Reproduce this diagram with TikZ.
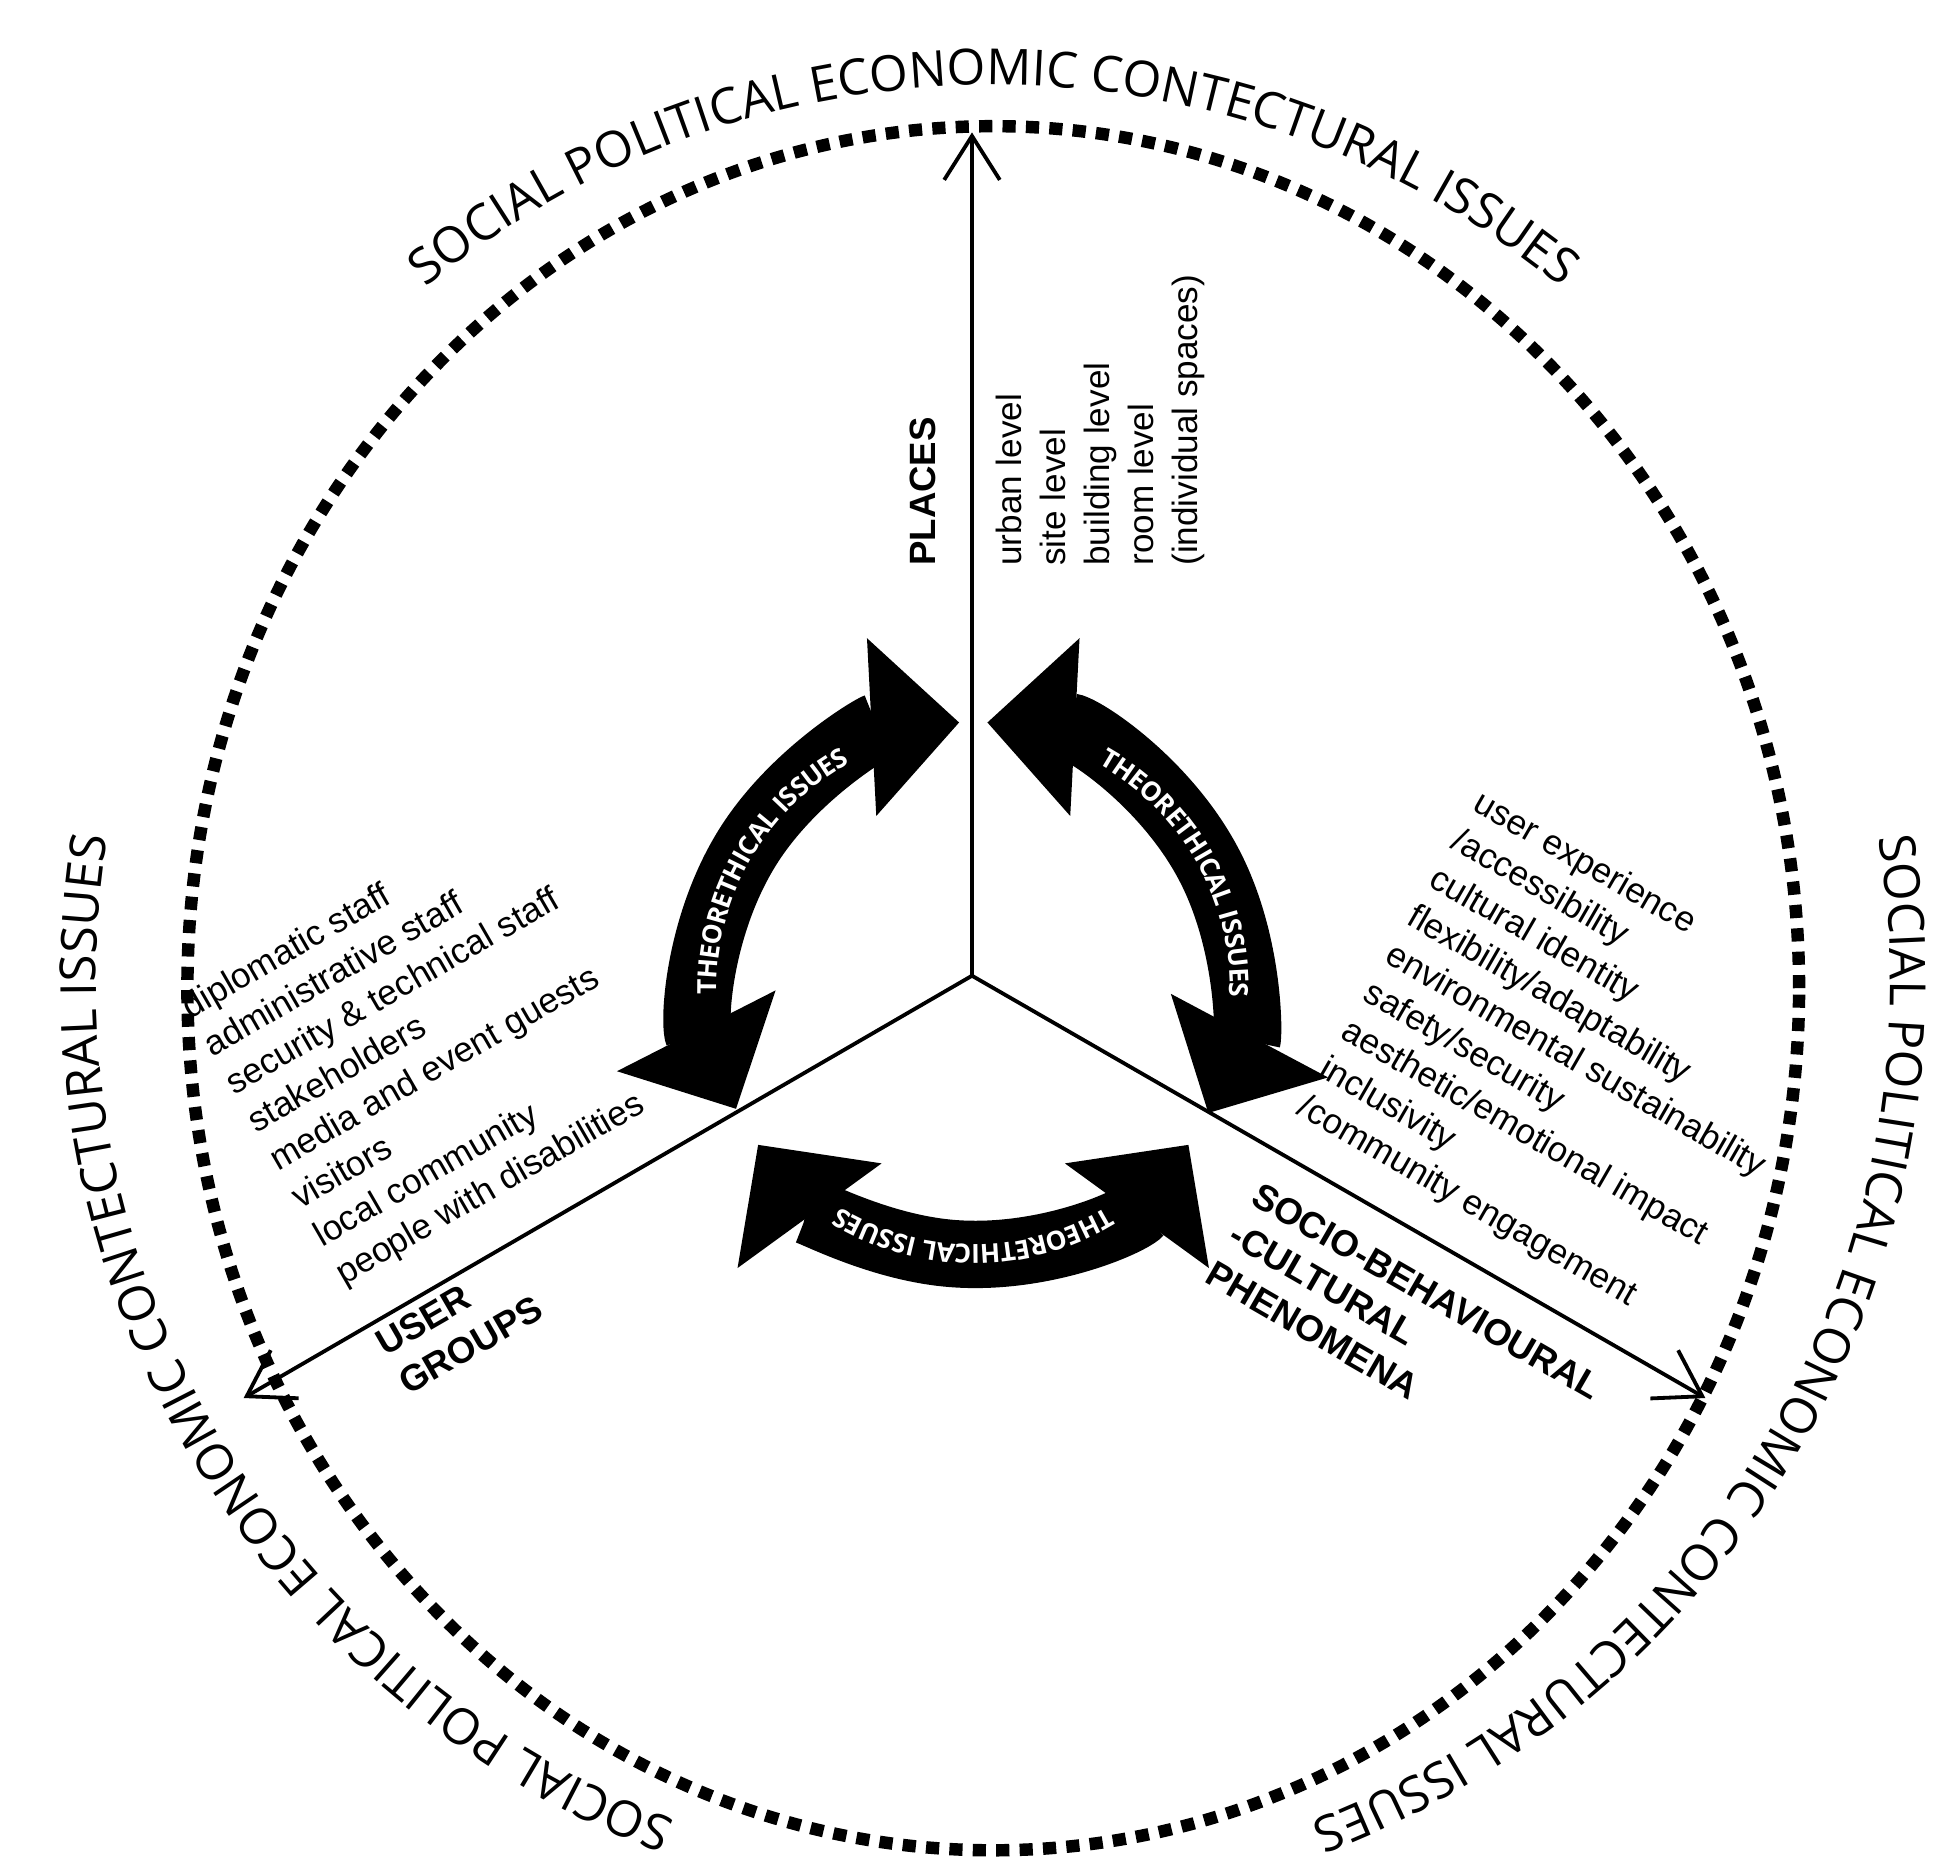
\documentclass[tikz,border=0pt]{standalone}
\usepackage{fontspec}
\setmainfont{Liberation Sans}
\newfontfamily\osans{Open Sans}
\usetikzlibrary{arrows.meta,decorations.text}
\begin{document}
\begin{tikzpicture}[x=0.03cm,y=0.03cm,
  axis/.style={line width=2.6pt,-{Straight Barb[length=30pt,width=38pt,line width=2.6pt]}},
  ring/.style={line width=8.5pt,dash pattern=on 9pt off 7pt},
  bigarc/.style={line width=46pt,{Triangle[length=60pt,width=118pt]}-{Triangle[length=60pt,width=118pt]}},
  listtxt/.style={inner sep=0pt,align=left,font=\fontsize{24}{30}\selectfont},
  boldtxt/.style={inner sep=0pt,align=left,font=\bfseries\fontsize{25}{31}\selectfont},
  outtext/.style={decorate,decoration={text along path,text align=center,
     text={|\osans\fontsize{34}{34}\selectfont|SOCIAL POLITICAL ECONOMIC CONTECTURAL ISSUES}}},
  arctext/.style={decorate,decoration={text along path,text align=center,raise=-6.5pt,
     text={|\osans\bfseries\color{white}\fontsize{18}{18}\selectfont|THEORETHICAL ISSUES}}}]
\useasboundingbox (0,0) rectangle (1560,1498);
\fill[white] (0,0) rectangle (1560,1498);
% ring
\draw[ring] (795,707) ellipse [x radius=645, y radius=690];
\coordinate (C) at (795,712);
\path[outtext] (C) ++(131:718) arc[start angle=131,end angle=49,radius=718];
\path[outtext] (C) ++(11:718) arc[start angle=11,end angle=-71,radius=718];
\path[outtext] (C) ++(251:718) arc[start angle=251,end angle=169,radius=718];
% axes
\coordinate (O) at (778,717);
\coordinate (T) at (778,1392);
\coordinate (L) at (195,379);
\coordinate (R) at (1365,379);
\draw[axis] (O) -- (T);
\draw[axis] (O) -- (L);
\draw[axis] (O) -- (R);
% theoretical arcs
\coordinate (M) at (779,707);
\draw[bigarc] (M) ++(207:213) arc[start angle=207,end angle=93,radius=213];
\draw[bigarc] (M) ++(87:213) arc[start angle=87,end angle=-28,radius=213];
\draw[bigarc] (M) ++(324:213) arc[start angle=324,end angle=216,radius=213];
\path[arctext] (M) ++(207:213) arc[start angle=207,end angle=93,radius=213];
\path[arctext] (M) ++(87:213) arc[start angle=87,end angle=-28,radius=213];
\path[arctext] (M) ++(324:213) arc[start angle=324,end angle=216,radius=213];
% labels
\node[boldtxt,rotate=90,anchor=south west] (places) at (749,1045) {PLACES};
\node[listtxt,rotate=90,anchor=north west] (placelist) at (797,1045)
  {urban level\\site level\\building level\\room level\\(individual spaces)};
\node[listtxt,rotate=30,anchor=north west] (userlist) at (142,700)
  {diplomatic staff\\administrative staff\\security \& technical staff\\stakeholders\\media and event guests\\visitors\\local community\\people with disabilities};
\node[listtxt,rotate=-30,anchor=north west] (socialist) at (1188,868)
  {user experience\\/accessibility\\cultural identity\\flexibility/adaptability\\environmental sustainability\\safety/security\\aesthetic/emotional impact\\inclusivity\\/community engagement};
\node[boldtxt,rotate=30,anchor=north west] (users) at (298,430) {USER\\GROUPS};
\node[boldtxt,rotate=-30,anchor=north west] (socio) at (1010,553) {SOCIO-BEHAVIOURAL\\-CULTURAL\\PHENOMENA};
\end{tikzpicture}
\end{document}
